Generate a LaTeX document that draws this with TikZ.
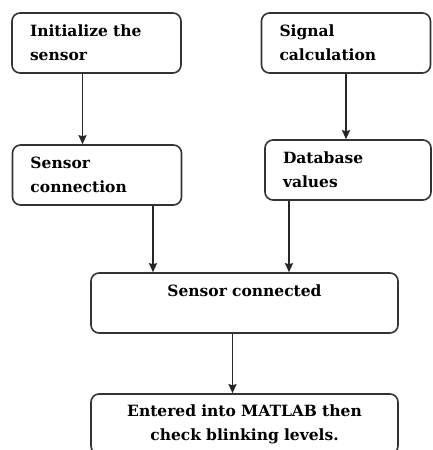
\documentclass[tikz,border=0pt]{standalone}
\usepackage{fontspec}
\setmainfont{DejaVu Serif}
\usepackage{tikz}
\usetikzlibrary{arrows.meta}
\tikzstyle{stepbox} = [rectangle, rounded corners=8pt, draw=black!80, line width=1.6pt, minimum height=60pt, text width=133pt, inner xsep=18pt, align=left, font=\bfseries\fontsize{15.5}{24}\selectfont]
\tikzstyle{widebox} = [stepbox, text width=271pt, align=center]
\tikzstyle{arrow} = [line width=1.6pt,->,>={Stealth[length=9pt,width=8pt,inset=1pt]}, draw=black!85]

\begin{document}
\begin{tikzpicture}
\useasboundingbox (0,0) rectangle (432pt,-450pt);
\node(init) [stepbox] at (96.5pt,-43pt) {Initialize the\\sensor};
\node(signal) [stepbox] at (346pt,-43pt) {Signal\\calculation};
\node(sconn) [stepbox] at (97pt,-175pt) {Sensor\\connection};
\node(dbval) [stepbox, text width=130pt] at (348pt,-170pt) {Database\\values};
\node(connected) [widebox] at (244.5pt,-303pt) {Sensor connected\\\mbox{}};
\node(matlab) [widebox] at (244.5pt,-424pt) {Entered into MATLAB then\\check blinking levels.};

\draw[arrow] ([xshift=-14pt]init.south) -- ([xshift=-14pt]init.south |- sconn.north);
\draw[arrow] (signal) -- (signal |- dbval.north);
\draw[arrow] ([xshift=56pt]sconn.south) -- ([xshift=56pt]sconn.south |- connected.north);
\draw[arrow] ([xshift=-59pt]dbval.south) -- ([xshift=-59pt]dbval.south |- connected.north);
\draw[arrow] ([xshift=-12pt]connected.south) -- ([xshift=-12pt]connected.south |- matlab.north);
\end{tikzpicture}
\end{document}
